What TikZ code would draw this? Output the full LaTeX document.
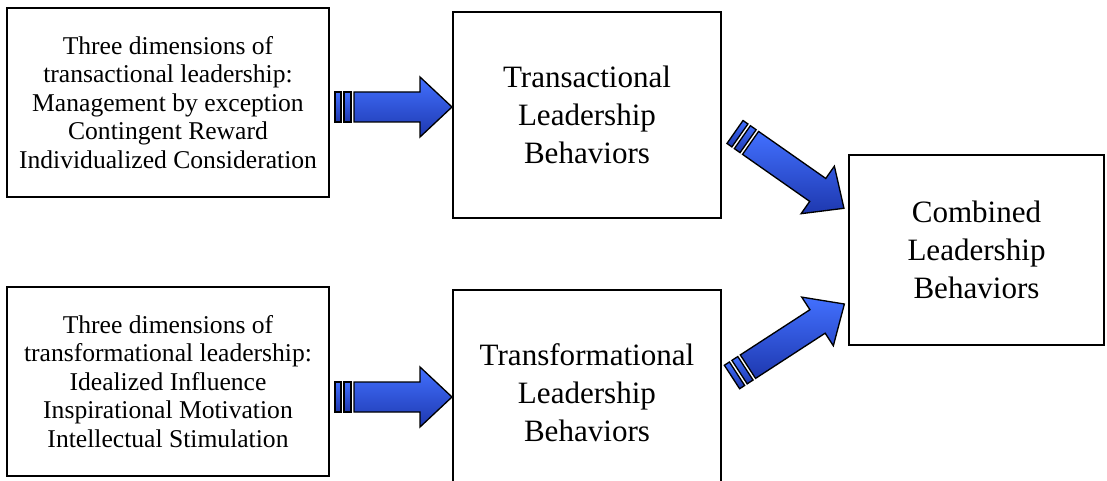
\documentclass[tikz,border=0pt]{standalone}
\usepackage{fontspec}
\setmainfont{Liberation Serif}
\definecolor{arrowlight}{RGB}{66,112,255}
\definecolor{arrowdark}{RGB}{30,56,175}
\newcommand{\stripedarrow}[5]{%
  \begin{scope}[shift={#1},rotate=#2]
    \path[arrowfill] (19,-#4) -- ({#3-32},-#4) -- ({#3-32},-#5) -- (#3,0) -- ({#3-32},#5) -- ({#3-32},#4) -- (19,#4) -- cycle;
    \path[arrowfill] (0,-#4) rectangle (6,#4);
    \path[arrowfill] (9,-#4) rectangle (16,#4);
  \end{scope}}
\begin{document}
\begin{tikzpicture}[x=0.75pt,y=-0.75pt,
  box/.style={draw=black,line width=1.1pt,inner sep=0pt,align=center},
  smalltxt/.style={font=\fontsize{19.2pt}{21.4pt}\selectfont},
  bigtxt/.style={font=\fontsize{23.3pt}{28.5pt}\selectfont},
  arrowfill/.style={draw=black,line width=1pt,line join=miter,top color=arrowlight,bottom color=arrowdark}]
\useasboundingbox (0,0) rectangle (1107,481);
\clip (0,0) rectangle (1107,481);
\fill[white] (0,0) rectangle (1107,481);

\node[box,smalltxt,minimum width=241.5pt,minimum height=141.75pt] (b1) at (168,102.5)
  {Three dimensions of\\transactional leadership:\\Management by exception\\Contingent Reward\\Individualized Consideration};
\node[box,smalltxt,minimum width=241.5pt,minimum height=141.75pt] (b4) at (168,381.5)
  {Three dimensions of\\transformational leadership:\\Idealized Influence\\Inspirational Motivation\\Intellectual Stimulation};
\node[box,bigtxt,minimum width=201pt,minimum height=154.5pt] (b2) at (587,115)
  {Transactional\\Leadership\\Behaviors};
\node[box,bigtxt,minimum width=201pt,minimum height=154.5pt] (b5) at (587,393)
  {Transformational\\Leadership\\Behaviors};
\node[box,bigtxt,minimum width=191.25pt,minimum height=142.5pt] (b3) at (976.5,250)
  {Combined\\Leadership\\Behaviors};

\coordinate (t1) at (335,107);
\coordinate (t4) at (335,397);
\coordinate (t2) at (735,132);
\coordinate (t5) at (732,377);

\stripedarrow{(t1)}{0}{117}{15}{30}
\stripedarrow{(t4)}{0}{117}{15}{30}
\stripedarrow{(t2)}{-35}{133}{14}{29}
\stripedarrow{(t5)}{33}{134}{14}{29}
\end{tikzpicture}
\end{document}
